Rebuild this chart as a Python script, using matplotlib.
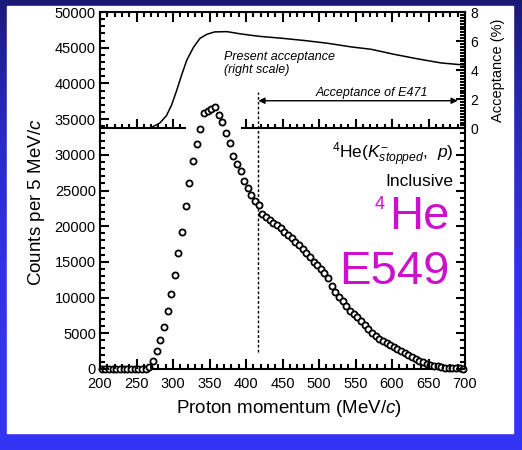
import numpy as np
import matplotlib.pyplot as plt
from matplotlib.ticker import MultipleLocator
from matplotlib.patches import Rectangle

plt.rcParams['font.family'] = ['Liberation Sans', 'DejaVu Sans']
plt.rcParams['mathtext.fontset'] = 'custom'
plt.rcParams['mathtext.rm'] = 'Liberation Sans'
plt.rcParams['mathtext.it'] = 'Liberation Sans:italic'
plt.rcParams['mathtext.sf'] = 'Liberation Sans'

# proton momentum bin centres (MeV/c), 5 MeV/c bins
momentum = np.arange(202.5, 700, 5)
# counts per 5 MeV/c
counts = [0] * 13 + [
    250, 1100, 2500, 4000, 5900, 8100, 10450, 13200, 16300, 19200,
    22850, 26000, 29150, 31500, 33600, 35800, 36200, 36400, 36700, 35600,
    34600, 33000, 31600,
    29900, 28700, 27800, 26300, 25300, 24300, 23500, 22900,
    21700, 21300, 20900, 20450, 20100, 19700, 19150, 18750, 18350, 17800,
    17350, 16850, 16250, 15650, 15050, 14550, 14050, 13450, 12700, 11600,
    10800, 10100, 9500, 8800, 8100, 7750, 7350, 6770, 6150, 5560,
    5050, 4600, 4250, 3950, 3620, 3300, 3030, 2780, 2520, 2200,
    1920, 1680, 1400, 1150, 950, 750, 560, 460, 360, 260,
    210, 170, 130, 100, 80, 60]

# present acceptance (%), right scale
acc_p = [200, 250, 265, 270, 282, 291, 298, 305, 312, 319, 328, 337, 346, 357,
         374, 392, 410, 420, 448, 480, 512, 544, 571, 603, 635, 667, 700]
acc_val = [0, 0, 0, 0.05, 0.37, 0.87, 1.6, 2.6, 3.7, 4.7, 5.57, 6.19, 6.46, 6.63,
           6.65, 6.5, 6.38, 6.32, 6.2, 6.04, 5.85, 5.6, 5.44, 5.09, 4.78, 4.5, 4.35]

e471_low = 417      # lower edge of E471 acceptance
e471_high = 690
inset_base = 33700  # where the acceptance panel sits on the count scale

fig = plt.figure(figsize=(5.22, 4.5), dpi=100)

# blue slide background + white panel
bg = fig.add_axes([0, 0, 1, 1], zorder=-5)
bg.axis('off')
t = np.linspace(0, 1, 450)[:, None]
c_top = np.array([26, 26, 118]) / 255
c_bot = np.array([52, 52, 245]) / 255
w = (1 - t) ** 2.5
grad = c_bot + (c_top - c_bot) * w[..., None]
bg.imshow(grad, aspect='auto', extent=[0, 1, 0, 1])
bg.add_patch(Rectangle((7 / 522, 17 / 450), 506 / 522, 427 / 450, color='white'))
bg.set_xlim(0, 1)
bg.set_ylim(0, 1)

rect = [100 / 522, 81 / 450, 365 / 522, 357 / 450]
ax = fig.add_axes(rect)
ax.set_xlim(200, 700)
ax.set_ylim(0, 50000)
for s in ax.spines.values():
    s.set_linewidth(1.5)
ax.xaxis.set_major_locator(MultipleLocator(50))
ax.yaxis.set_major_locator(MultipleLocator(5000))
ax.tick_params(length=0)
ax.tick_params(axis='x', labelsize=10.5, pad=6)
ax.tick_params(axis='y', labelsize=10.5, pad=3)
ax.set_xlabel('Proton momentum (MeV/$c$)', fontsize=13.5)
ax.set_ylabel('Counts per 5 MeV/$c$', fontsize=13.5)
ax.xaxis.set_label_coords(0.518, -0.08)
ax.yaxis.set_label_coords(-0.144, 0.468)

b = inset_base / 50000

# acceptance panel
ins = ax.inset_axes([0, b, 1, 1 - b])
ins.patch.set_visible(False)
ins.set_xlim(200, 700)
ins.set_ylim(0, 8)
for s in ins.spines.values():
    s.set_visible(False)
ins.set_xticks([])
ins.yaxis.tick_right()
ins.yaxis.set_label_position('right')
ins.yaxis.set_major_locator(MultipleLocator(2))
ins.tick_params(length=0, labelsize=10, pad=4)
ins.set_ylabel('Acceptance (%)', fontsize=10.5, labelpad=9)
ins.plot(acc_p, acc_val, color='black', lw=1.1)

ins.text(370, 4.9, 'Present acceptance', fontsize=9, style='italic', va='center')
ins.text(370, 4.0, '(right scale)', fontsize=9, style='italic', va='center')
ins.annotate('', xy=(e471_low, 1.9), xytext=(e471_high, 1.9),
             arrowprops=dict(arrowstyle='<|-|>', color='black', lw=1,
                             mutation_scale=9, shrinkA=0, shrinkB=0))
ins.text(572, 2.45, 'Acceptance of E471', fontsize=9, style='italic',
         ha='center', va='center')

ax.vlines(e471_low, 2400, 38800, colors='black', lw=1, linestyles=(0, (2, 1.5)))

ax.plot(momentum, counts, 'o', ms=4.4, mfc='white', mec='black', mew=1.3,
        clip_on=False, zorder=5)

ax.text(684, 30000, r'$^4$He($K^{-}_{stopped}$,  $p$)', fontsize=12.5,
        ha='right', va='center')
ax.text(684, 26200, 'Inclusive', fontsize=12.5, ha='right', va='center')
mag = '#cc11cc'
ax.text(679, 21300, 'He', fontsize=34, color=mag, ha='right', va='center')
ax.text(590, 23100, '4', fontsize=13, color=mag, ha='right', va='center')
ax.text(679, 13600, 'E549', fontsize=34, color=mag, ha='right', va='center')

# overlay for the inward tick marks and the broken panel baseline
ov = fig.add_axes(rect, zorder=10)
ov.set_xlim(200, 700)
ov.set_ylim(0, 50000)
ov.axis('off')


def seg_plot(xs0, xs1, ys0, ys1):
    xs = np.column_stack([xs0, xs1, np.full(len(xs0), np.nan)]).ravel()
    ys = np.column_stack([ys0, ys1, np.full(len(ys0), np.nan)]).ravel()
    ov.plot(xs, ys, color='black', lw=1.5, clip_on=False,
            solid_capstyle='butt')


xt = np.arange(200, 701, 10)
xlen = np.where(xt % 50 == 0, 1350, 650)
zero = np.zeros(len(xt))
seg_plot(xt, xt, zero, xlen)                    # bottom
seg_plot(xt, xt, zero + 50000, 50000 - xlen)    # top
yt = np.arange(0, 50001, 1000)
ylen = np.where(yt % 5000 == 0, 13, 7)
seg_plot(np.full(len(yt), 200), 200 + ylen, yt, yt)   # left
low = yt <= 33000
seg_plot(700 - ylen[low], np.full(low.sum(), 700), yt[low], yt[low])  # right, lower
# right, acceptance scale (0-8 %, every 0.2)
at = np.arange(0, 41) * 0.2
alen = np.where(np.arange(0, 41) % 10 == 0, 13, 7)
ay = inset_base + at / 8 * (50000 - inset_base)
seg_plot(700 - alen, np.full(len(at), 700), ay, ay)
# panel baseline, broken where the peak passes
for x0, x1 in [(200, 316), (394, 700)]:
    ov.plot([x0, x1], [inset_base, inset_base], color='black', lw=1.5)
    sel = (xt >= x0) & (xt <= x1)
    base = np.full(sel.sum(), inset_base)
    seg_plot(xt[sel], xt[sel], base, base + np.where(xt[sel] % 50 == 0, 1350, 650))

fig.savefig('out.png', dpi=100)
